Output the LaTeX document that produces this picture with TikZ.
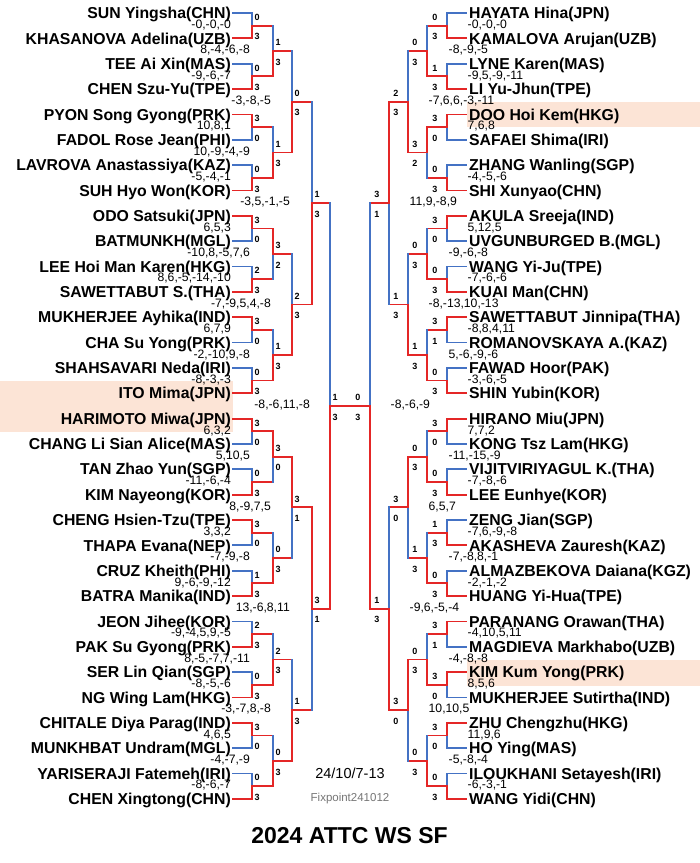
\documentclass[tikz,border=0pt]{standalone}
\usepackage{fontspec}
\setmainfont{Liberation Sans}
\usetikzlibrary{positioning}
\definecolor{winred}{RGB}{228,38,38}
\definecolor{loseblue}{RGB}{68,114,196}
\definecolor{seedbg}{RGB}{252,228,214}
\definecolor{stampgray}{RGB}{118,118,118}
\tikzset{win/.style={draw=winred,line width=1.8pt,line cap=rect},lose/.style={draw=loseblue,line width=1.8pt,line cap=rect},
  pname/.style={inner sep=0pt,text height=11.3pt,text depth=0pt,font=\fontsize{15.8}{16}\selectfont\bfseries},
  lbl/.style={inner sep=0pt,text height=6.5pt,text depth=0pt,font=\fontsize{9}{9}\selectfont\bfseries},
  lblL/.style={lbl,anchor=west,xshift=2.5pt},lblR/.style={lbl,anchor=east,xshift=-9.5pt},
  gm/.style={inner sep=0pt,text height=8.6pt,text depth=0pt,font=\fontsize{12.2}{13}\selectfont},
  gmL/.style={gm,anchor=east,xshift=-2pt},gmR/.style={gm,anchor=west,xshift=1.5pt}}
% x of the verticals, round 0 = start of the name lines
\def\xsL{233,252,273,292,312,330}
\def\xsR{466,447,427,408,389,370}
% \bout{side}{round}{match}{upper}{lower}{games}
\newcommand\bout[6]{%
  \pgfmathtruncatemacro\rp{#2-1}\pgfmathtruncatemacro\ca{2*#3}\pgfmathtruncatemacro\cb{2*#3+1}%
  \edef\xlist{\csname xs#1\endcsname}%
  \pgfmathsetmacro\xv{{\xlist}[#2]}\pgfmathsetmacro\xp{{\xlist}[\rp]}%
  \pgfmathsetmacro\ym{13+25.35*(#3*2^#2+(2^#2-1)/2)}%
  \coordinate (#1#2m#3) at (\xv,\ym);
  \ifnum#4>#5\relax\def\ta{win}\def\tb{lose}\else\def\ta{lose}\def\tb{win}\fi
  \ifnum#2=1\relax
    \draw[\ta] (#1\rp m\ca) -| (#1#2m#3);
    \draw[\tb] (#1\rp m\cb) -| (#1#2m#3);
  \else
    \draw[win] (#1\rp m\ca) -- (#1\rp m\ca -| #1#2m#3);
    \draw[win] (#1\rp m\cb) -- (#1\rp m\cb -| #1#2m#3);
    \draw[\ta] (#1\rp m\ca -| #1#2m#3) -- (#1#2m#3);
    \draw[\tb] (#1\rp m\cb -| #1#2m#3) -- (#1#2m#3);
  \fi
  \node[lbl#1,yshift=8.5pt] at (#1#2m#3) {#4};
  \node[lbl#1,yshift=-11pt] at (#1#2m#3) {#5};
  \node[gm#1] at (\xp,\ym-1.5) {#6};
}

\begin{document}
\begin{tikzpicture}[x=1pt,y=-1pt]
\useasboundingbox (0,0) rectangle (700,863);
\fill[white] (0,0) rectangle (700,863);
% seeds
\fill[seedbg] (0,380.5) rectangle (233,431.5);
\fill[seedbg] (467,101.7) rectangle (700,127);
\fill[seedbg] (467,659.5) rectangle (700,685.5);

\foreach \n [count=\i from 0] in {SUN Yingsha(CHN),KHASANOVA Adelina(UZB),TEE Ai Xin(MAS),CHEN Szu-Yu(TPE),PYON Song Gyong(PRK),FADOL Rose Jean(PHI),LAVROVA Anastassiya(KAZ),SUH Hyo Won(KOR),ODO Satsuki(JPN),BATMUNKH(MGL),LEE Hoi Man Karen(HKG),SAWETTABUT S.(THA),MUKHERJEE Ayhika(IND),CHA Su Yong(PRK),SHAHSAVARI Neda(IRI),ITO Mima(JPN),HARIMOTO Miwa(JPN),CHANG Li Sian Alice(MAS),TAN Zhao Yun(SGP),KIM Nayeong(KOR),CHENG Hsien-Tzu(TPE),THAPA Evana(NEP),CRUZ Kheith(PHI),BATRA Manika(IND),JEON Jihee(KOR),PAK Su Gyong(PRK),SER Lin Qian(SGP),NG Wing Lam(HKG),CHITALE Diya Parag(IND),MUNKHBAT Undram(MGL),YARISERAJI Fatemeh(IRI),CHEN Xingtong(CHN)}{
  \coordinate (L0m\i) at (233,13+25.35*\i);
  \node[pname,left=2pt of L0m\i] (Lname\i) {\n};}
\foreach \n [count=\i from 0] in {HAYATA Hina(JPN),KAMALOVA Arujan(UZB),LYNE Karen(MAS),LI Yu-Jhun(TPE),DOO Hoi Kem(HKG),SAFAEI Shima(IRI),ZHANG Wanling(SGP),SHI Xunyao(CHN),AKULA Sreeja(IND),UVGUNBURGED B.(MGL),WANG Yi-Ju(TPE),KUAI Man(CHN),SAWETTABUT Jinnipa(THA),ROMANOVSKAYA A.(KAZ),FAWAD Hoor(PAK),SHIN Yubin(KOR),HIRANO Miu(JPN),KONG Tsz Lam(HKG),VIJITVIRIYAGUL K.(THA),LEE Eunhye(KOR),ZENG Jian(SGP),AKASHEVA Zauresh(KAZ),ALMAZBEKOVA Daiana(KGZ),HUANG Yi-Hua(TPE),PARANANG Orawan(THA),MAGDIEVA Markhabo(UZB),KIM Kum Yong(PRK),MUKHERJEE Sutirtha(IND),ZHU Chengzhu(HKG),HO Ying(MAS),ILOUKHANI Setayesh(IRI),WANG Yidi(CHN)}{
  \coordinate (R0m\i) at (466,13+25.35*\i);
  \node[pname,right=3pt of R0m\i] (Rname\i) {\n};}

% left half
\foreach \u/\l/\g [count=\m from 0] in {0/3/{-0,-0,-0},0/3/{-9,-6,-7},3/0/{10,8,1},0/3/{-5,-4,-1},3/0/{6,5,3},2/3/{8,6,-5,-14,-10},3/0/{6,7,9},0/3/{-8,-3,-3},3/0/{6,3,2},0/3/{-11,-6,-4},3/0/{3,3,2},1/3/{9,-6,-9,-12},2/3/{-9,-4,5,9,-5},0/3/{-8,-5,-6},3/0/{4,6,5},0/3/{-8,-6,-7}}{\bout{L}{1}{\m}{\u}{\l}{\g}}
\foreach \u/\l/\g [count=\m from 0] in {1/3/{8,-4,-6,-8},1/3/{10,-9,-4,-9},3/2/{-10,8,-5,7,6},1/3/{-2,-10,9,-8},3/0/{5,10,5},0/3/{-7,-9,-8},2/3/{8,-5,-7,7,-11},0/3/{-4,-7,-9}}{\bout{L}{2}{\m}{\u}{\l}{\g}}
\foreach \u/\l/\g [count=\m from 0] in {0/3/{-3,-8,-5},2/3/{-7,-9,5,4,-8},3/1/{8,-9,7,5},1/3/{-3,-7,8,-8}}{\bout{L}{3}{\m}{\u}{\l}{\g}}
\foreach \u/\l/\g [count=\m from 0] in {1/3/{-3,5,-1,-5},3/1/{13,-6,8,11}}{\bout{L}{4}{\m}{\u}{\l}{\g}}
\bout{L}{5}{0}{1}{3}{-8,-6,11,-8}

% right half
\foreach \u/\l/\g [count=\m from 0] in {0/3/{-0,-0,-0},1/3/{-9,5,-9,-11},3/0/{7,6,8},0/3/{-4,-5,-6},3/0/{5,12,5},0/3/{-7,-6,-6},3/1/{-8,8,4,11},0/3/{-3,-6,-5},3/0/{7,7,2},0/3/{-7,-8,-6},1/3/{-7,6,-9,-8},0/3/{-2,-1,-2},3/1/{-4,10,5,11},3/0/{8,5,6},3/0/{11,9,6},0/3/{-6,-3,-1}}{\bout{R}{1}{\m}{\u}{\l}{\g}}
\foreach \u/\l/\g [count=\m from 0] in {0/3/{-8,-9,-5},3/2/{},0/3/{-9,-6,-8},1/3/{5,-6,-9,-6},0/3/{-11,-15,-9},1/3/{-7,-8,8,-1},0/3/{-4,-8,-8},0/3/{-5,-8,-4}}{\bout{R}{2}{\m}{\u}{\l}{\g}}
\foreach \u/\l/\g [count=\m from 0] in {2/3/{-7,6,6,-3,-11},1/3/{-8,-13,10,-13},3/0/{6,5,7},3/0/{10,10,5}}{\bout{R}{3}{\m}{\u}{\l}{\g}}
\foreach \u/\l/\g [count=\m from 0] in {3/1/{11,9,-8,9},1/3/{-9,6,-5,-4}}{\bout{R}{4}{\m}{\u}{\l}{\g}}
\bout{R}{5}{0}{0}{3}{-8,-6,-9}

\draw[win] (L5m0) -- (R5m0);

\node[font=\fontsize{14.5}{15}\selectfont,inner sep=0pt] (date) at (350,773) {24/10/7-13};
\node[font=\fontsize{11.5}{12}\selectfont,text=stampgray,inner sep=0pt] (stamp) at (350,799) {Fixpoint241012};
\node[font=\fontsize{23}{24}\selectfont\bfseries,inner sep=0pt] (title) at (349.5,836) {2024 ATTC WS SF};
\end{tikzpicture}
\end{document}
